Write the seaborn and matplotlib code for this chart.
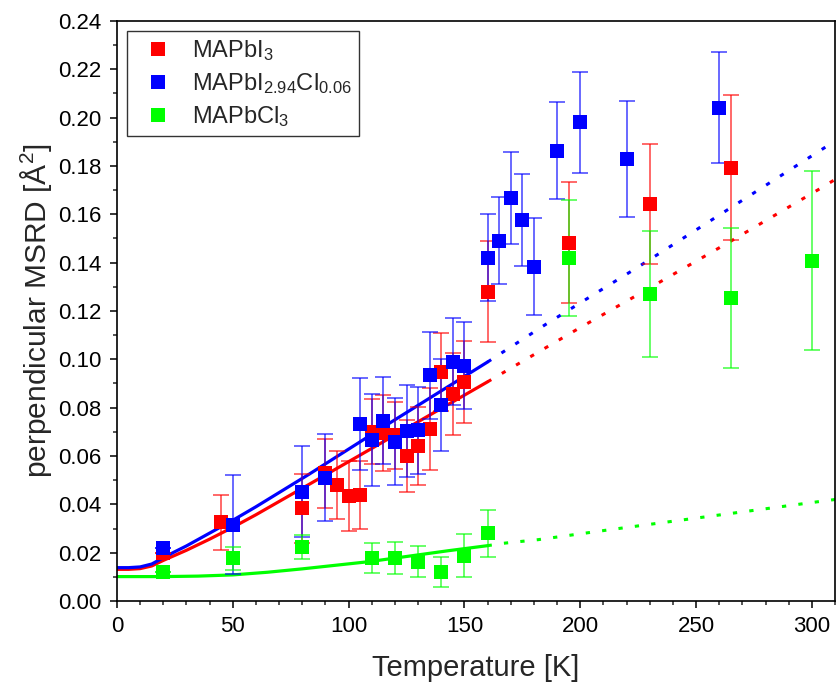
import numpy as np
import pandas as pd
import matplotlib
matplotlib.use("Agg")
import matplotlib.pyplot as plt
from matplotlib.lines import Line2D
from matplotlib.ticker import MultipleLocator, FormatStrFormatter
import seaborn as sns

# ---- measured MSRD values (temperature in K, MSRD in Å^2) ----
t_i3 = [20, 45, 80, 90, 95, 100, 105, 110, 115, 120, 125, 130, 135, 140, 145, 150,
        160, 195, 230, 265]
msrd_i3 = [0.0198, 0.0326, 0.0384, 0.0529, 0.0480, 0.0435, 0.0439, 0.0700, 0.0696,
           0.0685, 0.0601, 0.0641, 0.0711, 0.0948, 0.0858, 0.0906, 0.1280, 0.1483,
           0.1643, 0.1793]
err_i3 = [0.0, 0.0113, 0.0143, 0.0143, 0.0140, 0.0144, 0.0140, 0.0134, 0.0156, 0.0140,
          0.0150, 0.0160, 0.0170, 0.0160, 0.0170, 0.0170, 0.0210, 0.0250, 0.0250, 0.0300]

t_mix = [20, 50, 80, 90, 105, 110, 115, 120, 125, 130, 135, 140, 145, 150, 160, 165,
         170, 175, 180, 190, 200, 220, 260]
msrd_mix = [0.0218, 0.0315, 0.0453, 0.0509, 0.0734, 0.0667, 0.0746, 0.0658, 0.0705,
            0.0707, 0.0935, 0.0812, 0.0989, 0.0973, 0.1420, 0.1490, 0.1669, 0.1578,
            0.1383, 0.1863, 0.1980, 0.1830, 0.2042]
err_mix = [0.0, 0.0205, 0.0190, 0.0180, 0.0190, 0.0190, 0.0180, 0.0180, 0.0190, 0.0180,
           0.0180, 0.0190, 0.0180, 0.0180, 0.0180, 0.0180, 0.0190, 0.0190, 0.0200,
           0.0200, 0.0210, 0.0240, 0.0230]

t_cl3 = [20, 50, 80, 110, 120, 130, 140, 150, 160, 195, 230, 265, 300]
msrd_cl3 = [0.0119, 0.0177, 0.0225, 0.0177, 0.0177, 0.0163, 0.0119, 0.0188, 0.0280,
            0.1420, 0.1271, 0.1255, 0.1408]
err_cl3 = [0.0, 0.0047, 0.0050, 0.0063, 0.0066, 0.0064, 0.0063, 0.0088, 0.0097,
           0.0240, 0.0260, 0.0290, 0.0370]

# ---- model curves: fitted range (solid) and extrapolation (dotted) ----
fit_t_i3 = [0, 5, 10, 15, 20, 25, 30, 40, 50, 60, 83, 113, 160]
fit_i3 = [0.0131, 0.0131, 0.0134, 0.0145, 0.0168, 0.0189, 0.0210, 0.0256, 0.0305,
          0.0357, 0.0483, 0.0648, 0.0907]
ext_t_i3 = [160, 199, 212, 225, 265, 304, 310]
ext_i3 = [0.0907, 0.1126, 0.1197, 0.1268, 0.1489, 0.1709, 0.1744]

fit_t_mix = [0, 5, 10, 15, 20, 25, 30, 40, 50, 60, 83, 117.5, 160]
fit_mix = [0.0138, 0.0138, 0.0141, 0.0153, 0.0179, 0.0204, 0.0228, 0.0281, 0.0334,
           0.0390, 0.0525, 0.0735, 0.0989]
ext_t_mix = [160, 185, 211, 224, 307, 310]
ext_mix = [0.0989, 0.1144, 0.1299, 0.1376, 0.1885, 0.1903]

fit_t_cl3 = [0, 20, 35, 50, 65, 80, 109, 143, 160]
fit_cl3 = [0.0101, 0.0101, 0.0103, 0.0108, 0.0119, 0.0133, 0.0163, 0.0208, 0.0229]
ext_t_cl3 = [160, 167, 182, 212, 302, 310]
ext_cl3 = [0.0229, 0.0239, 0.0254, 0.0294, 0.0410, 0.0420]

names = ["MAPbI$_3$", "MAPbI$_{2.94}$Cl$_{0.06}$", "MAPbCl$_3$"]
colors = ["#ff0000", "#0000ff", "#00ff00"]

sns.set_theme(style="ticks")
plt.rcParams["font.family"] = ["Liberation Sans", "DejaVu Sans"]
plt.rcParams["mathtext.fontset"] = "custom"
plt.rcParams["mathtext.rm"] = "Liberation Sans"
plt.rcParams["mathtext.it"] = "Liberation Sans:italic"
plt.rcParams["mathtext.bf"] = "Liberation Sans:bold"

W, H = 837, 694
fig = plt.figure(figsize=(W / 100, H / 100), dpi=100)
ax = fig.add_axes([117 / W, 1 - 601 / H, (835 - 117) / W, (601 - 21) / H])

series = [
    (t_i3, msrd_i3, err_i3, fit_t_i3, fit_i3, ext_t_i3, ext_i3),
    (t_mix, msrd_mix, err_mix, fit_t_mix, fit_mix, ext_t_mix, ext_mix),
    (t_cl3, msrd_cl3, err_cl3, fit_t_cl3, fit_cl3, ext_t_cl3, ext_cl3),
]

# model curves underneath the data
for (t, m, e, ft, fm, et, em), c in zip(series, colors):
    sns.lineplot(x=ft, y=fm, ax=ax, color=c, lw=2.3, sort=False, estimator=None,
                 zorder=2)
    sns.lineplot(x=et, y=em, ax=ax, color=c, lw=2.2, sort=False, estimator=None,
                 linestyle=(0, (1.4, 4.0)), zorder=2)

# data with error bars
for (t, m, e, ft, fm, et, em), c in zip(series, colors):
    ax.errorbar(t, m, yerr=e, fmt="none", ecolor=c, elinewidth=1.1, capsize=6,
                capthick=1.1, alpha=0.75, zorder=3)
    sns.scatterplot(x=t, y=m, ax=ax, marker="s", s=90, color=c, linewidth=0,
                    zorder=4)

ax.set_xlim(0, 310)
ax.set_ylim(0, 0.24)
ax.xaxis.set_major_locator(MultipleLocator(50))
ax.xaxis.set_minor_locator(MultipleLocator(10))
ax.yaxis.set_major_locator(MultipleLocator(0.02))
ax.yaxis.set_minor_locator(MultipleLocator(0.01))
ax.yaxis.set_major_formatter(FormatStrFormatter("%.2f"))

for sp in ax.spines.values():
    sp.set_visible(True)
    sp.set_linewidth(1.2)
    sp.set_color("black")
ax.tick_params(which="major", direction="out", length=5, width=1.1, labelsize=16,
               colors="black", top=False, right=False, pad=6)
ax.tick_params(which="minor", direction="out", length=3, width=1.1,
               top=False, right=False)

ax.set_xlabel("Temperature [K]", fontsize=21, labelpad=12)
ax.set_ylabel("perpendicular MSRD [Å$^2$]", fontsize=21.5, labelpad=3)

handles = [Line2D([], [], ls="none", marker="s", markersize=9.5, color=c,
                  markeredgewidth=0) for c in colors]
leg = ax.legend(handles, names, loc="upper left", bbox_to_anchor=(0.014, 0.983),
                borderaxespad=0, fontsize=17, frameon=True, fancybox=False,
                edgecolor="black", handlelength=2.0, handletextpad=0.45,
                borderpad=0.3, labelspacing=0.35)
leg.get_frame().set_linewidth(1.0)

fig.savefig("out.png", dpi=100)
